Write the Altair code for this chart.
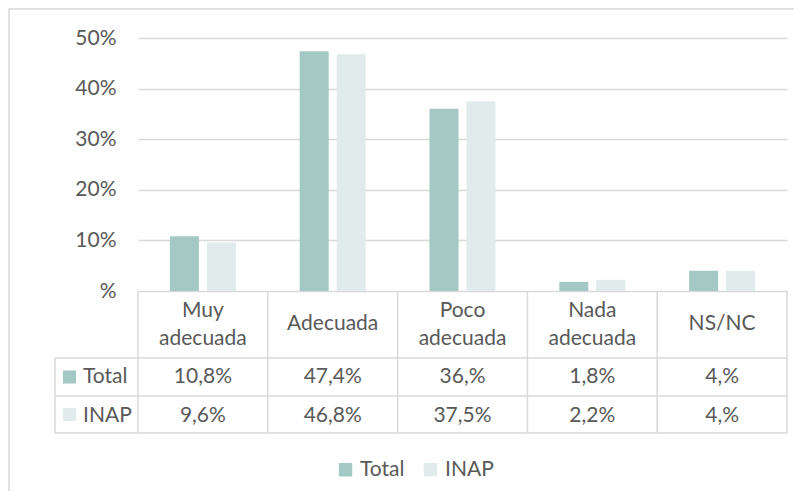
import altair as alt
import pandas as pd

# ---- data ----
cats = ["Muy adecuada", "Adecuada", "Poco adecuada", "Nada adecuada", "NS/NC"]
header_labels = ["Muy\nadecuada", "Adecuada", "Poco\nadecuada", "Nada\nadecuada", "NS/NC"]
series = ["Total", "INAP"]
total_vals = [10.8, 47.4, 36.0, 1.8, 4.0]
inap_vals = [9.6, 46.8, 37.5, 2.2, 4.0]
y_ticks = [0, 10, 20, 30, 40, 50]
colors = ["#A4C8C4", "#DFECEB"]

# ---- style / layout ----
W, H = 649, 253
TEXT = "#595959"
LINE = "#D9D9D9"
FONT = "Lato"
FS = 21
HDR_BOT, ROW1_BOT, ROW2_BOT = 320, 358, 395
LEFT = -83


def fmt(v):
    return f"{v:.1f}".rstrip("0").replace(".", ",") + "%"


def xcat(**kw):
    return alt.X("cat:N", sort=cats,
                 scale=alt.Scale(domain=cats, paddingInner=0, paddingOuter=0),
                 axis=None, **kw)


bars_df = pd.DataFrame(
    [{"cat": c, "series": s, "value": v}
     for s, vals in zip(series, [total_vals, inap_vals])
     for c, v in zip(cats, vals)]
)
cat_df = pd.DataFrame({"cat": cats, "header": header_labels})
one = pd.DataFrame({"a": [0]})

border = alt.Chart(one).mark_rect(fillOpacity=0, stroke=LINE, strokeWidth=1.5).encode(
    x=alt.value(-129), x2=alt.value(W + 100), y=alt.value(-29), y2=alt.value(H + 300)
)

bars = alt.Chart(bars_df).mark_bar().encode(
    x=xcat(),
    xOffset=alt.XOffset("series:N", sort=series,
                        scale=alt.Scale(domain=series, paddingInner=0.216, paddingOuter=0.862)),
    y=alt.Y("value:Q", scale=alt.Scale(domain=[0, 50]),
            axis=alt.Axis(values=y_ticks, title=None, grid=True, gridColor=LINE, gridWidth=1.5,
                          domain=False, ticks=False, labelPadding=22, labelFont=FONT,
                          labelFontSize=FS, labelColor=TEXT,
                          labelExpr="datum.value == 0 ? '%' : datum.value + '%'")),
    color=alt.Color("series:N", sort=series,
                    scale=alt.Scale(domain=series, range=colors),
                    legend=alt.Legend(orient="none", legendX=197, legendY=421,
                                      direction="horizontal", title=None,
                                      symbolType="square", symbolSize=180,
                                      symbolStrokeWidth=0, symbolOpacity=1,
                                      labelFont=FONT, labelFontSize=FS, labelColor=TEXT,
                                      columnPadding=15, labelOffset=4)),
)

layers = [border, bars]

# table vertical lines
layers.append(alt.Chart(cat_df).mark_rule(color=LINE, strokeWidth=1.5).encode(
    x=xcat(bandPosition=0), y=alt.value(H), y2=alt.value(ROW2_BOT)))
layers.append(alt.Chart(one).mark_rule(color=LINE, strokeWidth=1.5).encode(
    x=alt.value(W), y=alt.value(H), y2=alt.value(ROW2_BOT)))
layers.append(alt.Chart(one).mark_rule(color=LINE, strokeWidth=1.5).encode(
    x=alt.value(LEFT), y=alt.value(HDR_BOT), y2=alt.value(ROW2_BOT)))
# table horizontal lines
for yv in [HDR_BOT, ROW1_BOT, ROW2_BOT]:
    layers.append(alt.Chart(one).mark_rule(color=LINE, strokeWidth=1.5).encode(
        x=alt.value(LEFT), x2=alt.value(W), y=alt.value(yv)))

# header: two-line labels and one-line labels
hdr = alt.Chart(cat_df).mark_text(font=FONT, fontSize=FS, color=TEXT, lineBreak="\n",
                                  lineHeight=28, baseline="alphabetic")
layers.append(hdr.transform_filter("indexof(datum.header, '\\n') >= 0").encode(
    x=xcat(), y=alt.value(279), text="header:N"))
layers.append(hdr.transform_filter("indexof(datum.header, '\\n') < 0").encode(
    x=xcat(), y=alt.value(292), text="header:N"))

# rows
row_base = [345, 383.5]
row_mid = [339, 376.5]
for i, (s, vals) in enumerate(zip(series, [total_vals, inap_vals])):
    df = pd.DataFrame({"cat": cats, "label": [fmt(v) for v in vals]})
    layers.append(alt.Chart(df).mark_text(font=FONT, fontSize=FS, color=TEXT).encode(
        x=xcat(), y=alt.value(row_base[i]), text="label:N"))
    lab = pd.DataFrame({"label": [s]})
    layers.append(alt.Chart(lab).mark_text(font=FONT, fontSize=FS, color=TEXT, align="left").encode(
        x=alt.value(-55), y=alt.value(row_base[i]), text="label:N"))
    layers.append(alt.Chart(lab).mark_square(size=170, color=colors[i], opacity=1).encode(
        x=alt.value(-68.5), y=alt.value(row_mid[i])))

chart = alt.layer(*layers).properties(
    width=W, height=H,
    autosize=alt.AutoSizeParams(type="none"),
    padding={"left": 130, "top": 30, "right": 7, "bottom": 200},
    background="white",
).configure_view(stroke=None).configure_text(baseline="alphabetic")

chart.save("out.html", embed_options={"renderer": "svg", "actions": False})
